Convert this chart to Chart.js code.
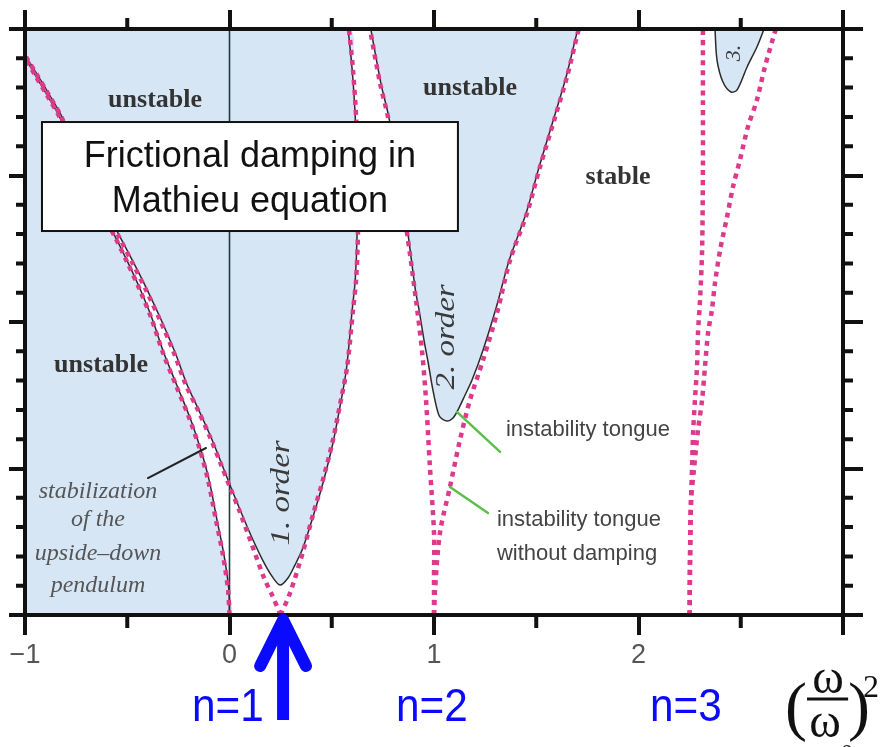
<!DOCTYPE html>
<html>
<head>
<meta charset="utf-8">
<title>Frictional damping in Mathieu equation</title>
<script src="https://cdn.jsdelivr.net/npm/chart.js@4.4.1/dist/chart.umd.min.js"></script>
<style>
  html, body { margin: 0; padding: 0; background: #fff; }
  #wrap { width: 881px; height: 747px; }
</style>
</head>
<body>
<div id="wrap"><canvas id="stab" width="881" height="747"></canvas></div>
<script>
// axes: x = (w/w0)^2, y = pump amplitude (no labels on y)
const xTicks = [-1, 0, 1, 2, 3];
const xTickLabels = ['−1', '0', '1', '2', ''];
const xMinor = [-0.5, 0.5, 1.5, 2.5];
const yTicks = [0, 1, 2, 3, 4];
const yMinor = [0.2, 0.4, 0.6, 0.8, 1.2, 1.4, 1.6, 1.8, 2.2, 2.4, 2.6, 2.8, 3.2, 3.4, 3.6, 3.8];

// transition curves without damping (dotted), from the axis upwards
const a0Free = [[0,0],[-0.007,0.171],[-0.032,0.41],[-0.066,0.648],[-0.105,0.922],[-0.144,1.126],[-0.193,1.331],[-0.262,1.57],[-0.325,1.788],[-0.379,2.014],[-0.438,2.218],[-0.501,2.41],[-0.56,2.58],[-0.633,2.765],[-0.707,2.969],[-0.77,3.174],[-0.829,3.392],[-0.893,3.549],[-0.951,3.686],[-1,3.809]];
const b1Free = [[0.25,0],[0.208,0.137],[0.169,0.253],[0.11,0.478],[0.051,0.703],[0.002,0.874],[-0.046,1.044],[-0.095,1.215],[-0.154,1.399],[-0.213,1.57],[-0.271,1.788],[-0.34,2.014],[-0.408,2.218],[-0.477,2.41],[-0.54,2.58],[-0.614,2.765],[-0.692,2.969],[-0.76,3.174],[-0.819,3.392],[-0.883,3.549],[-0.941,3.686],[-0.995,3.809]];
const a1Free = [[0.25,0],[0.296,0.15],[0.359,0.43],[0.408,0.683],[0.457,0.922],[0.506,1.195],[0.54,1.433],[0.575,1.693],[0.604,2.082],[0.619,2.287],[0.628,2.608],[0.628,3.003],[0.619,3.399],[0.604,3.72],[0.584,4]];
const b2Free = [[1,0],[1,0.239],[1,0.56],[0.98,1.01],[0.961,1.468],[0.941,1.809],[0.912,2.15],[0.868,2.608],[0.824,3.003],[0.775,3.399],[0.736,3.631],[0.687,4]];
const a2Free = [[1,0],[1.005,0.171],[1.029,0.56],[1.078,0.874],[1.127,1.195],[1.176,1.468],[1.24,1.741],[1.308,2.061],[1.372,2.423],[1.455,2.744],[1.518,3.058],[1.592,3.399],[1.65,3.672],[1.704,3.98],[1.709,4]];
const b3Free = [[2.25,0],[2.252,0.375],[2.257,0.785],[2.262,1.01],[2.267,1.242],[2.276,1.468],[2.286,1.693],[2.291,1.925],[2.301,2.15],[2.311,2.491],[2.315,3.058],[2.315,3.515],[2.315,4]];
const a3Free = [[2.25,0],[2.252,0.375],[2.257,0.785],[2.271,0.99],[2.291,1.263],[2.311,1.468],[2.325,1.693],[2.34,1.925],[2.359,2.082],[2.374,2.266],[2.399,2.491],[2.433,2.717],[2.462,2.922],[2.496,3.106],[2.535,3.331],[2.579,3.515],[2.618,3.741],[2.667,3.98],[2.672,4]];

// boundaries with damping (solid); tongues start at their raised tip
const a0Damped = [[0,0],[-0.003,0.171],[-0.027,0.41],[-0.061,0.648],[-0.1,0.922],[-0.14,1.126],[-0.189,1.331],[-0.258,1.57],[-0.321,1.788],[-0.376,2.014],[-0.435,2.218],[-0.498,2.41],[-0.558,2.58],[-0.631,2.765],[-0.705,2.969],[-0.768,3.174],[-0.828,3.392],[-0.892,3.549],[-0.95,3.686],[-1,3.809]];
const b1Damped = [[0.247,0.205],[0.21,0.26],[0.162,0.375],[0.104,0.546],[0.056,0.703],[0.008,0.867],[-0.04,1.038],[-0.089,1.208],[-0.148,1.392],[-0.207,1.57],[-0.265,1.788],[-0.334,2.014],[-0.402,2.218],[-0.471,2.41],[-0.535,2.58],[-0.609,2.765],[-0.688,2.969],[-0.756,3.174],[-0.816,3.392],[-0.88,3.549],[-0.939,3.686],[-0.994,3.809]];
const a1Damped = [[0.247,0.205],[0.286,0.253],[0.32,0.341],[0.359,0.457],[0.408,0.669],[0.457,0.901],[0.506,1.174],[0.54,1.42],[0.572,1.679],[0.6,2.082],[0.615,2.287],[0.624,2.608],[0.624,3.003],[0.615,3.399],[0.6,3.72],[0.58,4]];
const b2Damped = [[1.064,1.324],[1.029,1.352],[1.01,1.433],[0.99,1.57],[0.971,1.727],[0.951,1.877],[0.927,2.082],[0.909,2.218],[0.872,2.608],[0.828,3.003],[0.779,3.399],[0.74,3.631],[0.691,4]];
const a2Damped = [[1.064,1.324],[1.093,1.345],[1.117,1.399],[1.152,1.502],[1.186,1.604],[1.24,1.809],[1.305,2.102],[1.368,2.423],[1.451,2.744],[1.514,3.058],[1.588,3.399],[1.646,3.672],[1.7,3.98],[1.705,4]];
const t3Damped = [[2.374,4],[2.384,3.788],[2.413,3.638],[2.452,3.57],[2.482,3.584],[2.531,3.741],[2.579,3.877],[2.614,4]];

const BLUE_FILL = '#d6e6f5';
const PINK = 'rgb(222, 58, 140)';
const INK = '#111';
const NBLUE = '#0a0aff';

// unstable regions (with damping) as closed shapes
const regionLeft = [[-1, 0], ...a0Damped];
const regionTongue1 = [[-1, 4], ...a1Damped.slice().reverse(), ...b1Damped.slice(1), [-1, 3.82]];
const regionTongue2 = [...b2Damped.slice().reverse(), ...a2Damped.slice(1)];
const regionTongue3 = t3Damped;

function region(data) {
  return { data, showLine: true, fill: 'shape', backgroundColor: BLUE_FILL,
           borderWidth: 0, pointRadius: 0, tension: 0.3, order: 5 };
}
function solid(data) {
  return { data, showLine: true, fill: false, borderColor: '#2b2b2b', borderWidth: 1.5,
           pointRadius: 0, tension: 0.3, order: 3 };
}
function dotted(data) {
  return { data, showLine: true, fill: false, borderColor: PINK, borderWidth: 4.5,
           borderDash: [5, 5], borderCapStyle: 'butt', pointRadius: 0, tension: 0.3, order: 2 };
}

function drawText(ctx, text, x, y, font, color, align, rot, sx) {
  ctx.save();
  ctx.translate(x, y);
  if (rot) ctx.rotate(rot);
  if (sx) ctx.scale(sx, 1);
  ctx.font = font;
  ctx.fillStyle = color;
  ctx.textAlign = align || 'center';
  ctx.textBaseline = 'middle';
  ctx.fillText(text, 0, 0);
  ctx.restore();
}

// short minor ticks on all four sides
const minorTicks = {
  id: 'minorTicks',
  afterDraw(chart) {
    const { ctx, chartArea: a, scales: { x, y } } = chart;
    ctx.save();
    ctx.strokeStyle = INK;
    ctx.lineWidth = 4;
    ctx.beginPath();
    xMinor.forEach(v => {
      const px = x.getPixelForValue(v);
      ctx.moveTo(px, a.bottom); ctx.lineTo(px, a.bottom + 13);
      ctx.moveTo(px, a.top); ctx.lineTo(px, a.top - 11);
    });
    yMinor.forEach(v => {
      const py = y.getPixelForValue(v);
      ctx.moveTo(a.left, py); ctx.lineTo(a.left - 9, py);
      ctx.moveTo(a.right, py); ctx.lineTo(a.right + 10, py);
    });
    ctx.stroke();
    ctx.restore();
  }
};

// labels, leader lines and the text box inside the plot
const notes = {
  id: 'notes',
  afterDatasetsDraw(chart) {
    const { ctx, scales: { x, y } } = chart;
    const X = v => x.getPixelForValue(v);
    const Y = v => y.getPixelForValue(v);
    const serifB = 'bold 26px "Liberation Serif"';
    const serifI = 'italic 24px "Liberation Serif"';
    const sans = '22px "Liberation Sans"';

    drawText(ctx, 'unstable', X(-0.364), Y(3.515), serifB, '#333');
    drawText(ctx, 'unstable', X(1.176), Y(3.597), serifB, '#333');
    drawText(ctx, 'stable', X(1.9), Y(2.99), serifB, '#333');
    drawText(ctx, 'unstable', X(-0.628), Y(1.706), serifB, '#333');

    drawText(ctx, 'stabilization', X(-0.643), Y(0.84), serifI, '#555');
    drawText(ctx, 'of the', X(-0.643), Y(0.648), serifI, '#555');
    drawText(ctx, 'upside–down', X(-0.643), Y(0.416), serifI, '#555');
    drawText(ctx, 'pendulum', X(-0.643), Y(0.198), serifI, '#555');

    drawText(ctx, '1. order', X(0.257), Y(0.833), 'italic 28px "Liberation Serif"', '#3a3a3a', 'center', -Math.PI / 2, 1.18);
    drawText(ctx, '2. order', X(1.064), Y(1.898), 'italic 28px "Liberation Serif"', '#3a3a3a', 'center', -Math.PI / 2, 1.18);
    drawText(ctx, '3.', X(2.467), Y(3.836), 'italic 22px "Liberation Serif"', '#3a3a3a', 'center', -Math.PI / 2);

    drawText(ctx, 'instability tongue', X(1.352), Y(1.263), sans, '#444', 'left');
    drawText(ctx, 'instability tongue', X(1.308), Y(0.648), sans, '#444', 'left');
    drawText(ctx, 'without damping', X(1.308), Y(0.416), sans, '#444', 'left');

    ctx.save();
    ctx.lineCap = 'round';
    ctx.strokeStyle = '#222';
    ctx.lineWidth = 2;
    ctx.beginPath();
    ctx.moveTo(X(-0.399), Y(0.935)); ctx.lineTo(X(-0.115), Y(1.14));
    ctx.stroke();
    ctx.strokeStyle = '#5cbf4a';
    ctx.lineWidth = 2.5;
    ctx.beginPath();
    ctx.moveTo(X(1.112), Y(1.386)); ctx.lineTo(X(1.323), Y(1.113));
    ctx.moveTo(X(1.078), Y(0.874)); ctx.lineTo(X(1.264), Y(0.696));
    ctx.stroke();

    // title box
    const bx = X(-0.917), by = Y(3.365), bw = X(1.117) - bx, bh = Y(2.621) - by;
    ctx.fillStyle = '#fff';
    ctx.fillRect(bx, by, bw, bh);
    ctx.strokeStyle = INK;
    ctx.lineWidth = 2;
    ctx.strokeRect(bx, by, bw, bh);
    ctx.fillStyle = INK;
    ctx.font = '36px "Liberation Sans"';
    ctx.textAlign = 'center';
    ctx.textBaseline = 'alphabetic';
    ctx.fillText('Frictional damping in', X(0.1), Y(3.058));
    ctx.fillText('Mathieu equation', X(0.1), Y(2.751));
    ctx.restore();
  },
  afterDraw(chart) {
    const { ctx, scales: { x, y } } = chart;
    const X = v => x.getPixelForValue(v);
    const Y = v => y.getPixelForValue(v);
    ctx.save();

    // resonance markers under the axis
    ctx.fillStyle = NBLUE;
    ctx.font = '46px "Liberation Sans"';
    ctx.textAlign = 'left';
    ctx.textBaseline = 'alphabetic';
    [['n=1', -0.183], ['n=2', 0.814], ['n=3', 2.056]].forEach(([t, v]) => {
      ctx.save();
      ctx.translate(X(v), Y(-0.724));
      ctx.scale(0.92, 1);
      ctx.fillText(t, 0, 0);
      ctx.restore();
    });

    const ax = X(0.262);
    ctx.strokeStyle = NBLUE;
    ctx.lineWidth = 12;
    ctx.lineCap = 'butt';
    ctx.beginPath();
    ctx.moveTo(ax, Y(-0.06)); ctx.lineTo(ax, Y(-0.717));
    ctx.stroke();
    ctx.lineCap = 'round';
    ctx.lineJoin = 'round';
    ctx.beginPath();
    ctx.moveTo(X(0.15), Y(-0.348)); ctx.lineTo(ax, Y(-0.034)); ctx.lineTo(X(0.374), Y(-0.348));
    ctx.stroke();

    // axis title (w / w0)^2
    ctx.fillStyle = INK;
    ctx.textBaseline = 'alphabetic';
    ctx.font = '66px "Liberation Serif"';
    ctx.textAlign = 'left';
    ctx.fillText('(', X(2.716), Y(-0.771));
    ctx.fillText(')', X(3.025), Y(-0.771));
    ctx.font = '48px "Liberation Serif"';
    ctx.textAlign = 'center';
    ctx.fillText('ω', X(2.927), Y(-0.532));
    ctx.fillText('ω', X(2.912), Y(-0.833));
    ctx.font = '24px "Liberation Serif"';
    ctx.textAlign = 'left';
    ctx.fillText('0', X(2.99), Y(-0.99));
    ctx.font = '32px "Liberation Serif"';
    ctx.fillText('2', X(3.098), Y(-0.56));
    ctx.strokeStyle = INK;
    ctx.lineWidth = 3;
    ctx.lineCap = 'butt';
    ctx.beginPath();
    ctx.moveTo(X(2.824), Y(-0.573)); ctx.lineTo(X(3.025), Y(-0.573));
    ctx.stroke();
    ctx.restore();
  }
};

const frame = { display: true, color: INK, width: 4, z: 1 };
function grid(len) {
  return { drawOnChartArea: false, drawTicks: true, tickLength: len, tickWidth: 4,
           tickColor: INK, lineWidth: 4 };
}
const setTicks = list => s => { s.ticks = list.map(v => ({ value: v })); };

Chart.defaults.font.family = '"Liberation Sans", Arial, sans-serif';

new Chart(document.getElementById('stab'), {
  type: 'scatter',
  data: {
    datasets: [
      dotted(a0Free), dotted(b1Free), dotted(a1Free), dotted(b2Free),
      dotted(a2Free), dotted(b3Free), dotted(a3Free),
      solid(a0Damped), solid([...b1Damped.slice().reverse(), ...a1Damped.slice(1)]),
      solid([...b2Damped.slice().reverse(), ...a2Damped.slice(1)]), solid(t3Damped),
      { data: [[0, 0], [0, 4]], showLine: true, borderColor: '#1f3b3b', borderWidth: 1.6,
        pointRadius: 0, order: 4 },
      region(regionLeft), region(regionTongue1), region(regionTongue2), region(regionTongue3)
    ]
  },
  options: {
    responsive: false,
    animation: false,
    devicePixelRatio: 1,
    events: [],
    layout: { padding: 0 },
    plugins: { legend: { display: false }, tooltip: { enabled: false } },
    scales: {
      x: {
        type: 'linear', position: 'bottom', min: -1, max: 3,
        afterBuildTicks: setTicks(xTicks),
        afterFit: s => { s.height = 132; },
        border: frame, grid: grid(20),
        ticks: { callback: (v, i) => xTickLabels[i], color: '#555', padding: 4,
                 font: { size: 27 }, maxRotation: 0, autoSkip: false }
      },
      x2: {
        type: 'linear', position: 'top', min: -1, max: 3,
        afterBuildTicks: setTicks(xTicks),
        afterFit: s => { s.height = 29; },
        border: frame, grid: grid(19), ticks: { display: false }
      },
      y: {
        type: 'linear', position: 'left', min: 0, max: 4,
        afterBuildTicks: setTicks(yTicks),
        afterFit: s => { s.width = 25; },
        border: frame, grid: grid(16), ticks: { display: false }
      },
      y2: {
        type: 'linear', position: 'right', min: 0, max: 4,
        afterBuildTicks: setTicks(yTicks),
        afterFit: s => { s.width = 38; },
        border: frame, grid: grid(20), ticks: { display: false }
      }
    }
  },
  plugins: [minorTicks, notes]
});
</script>
</body>
</html>
